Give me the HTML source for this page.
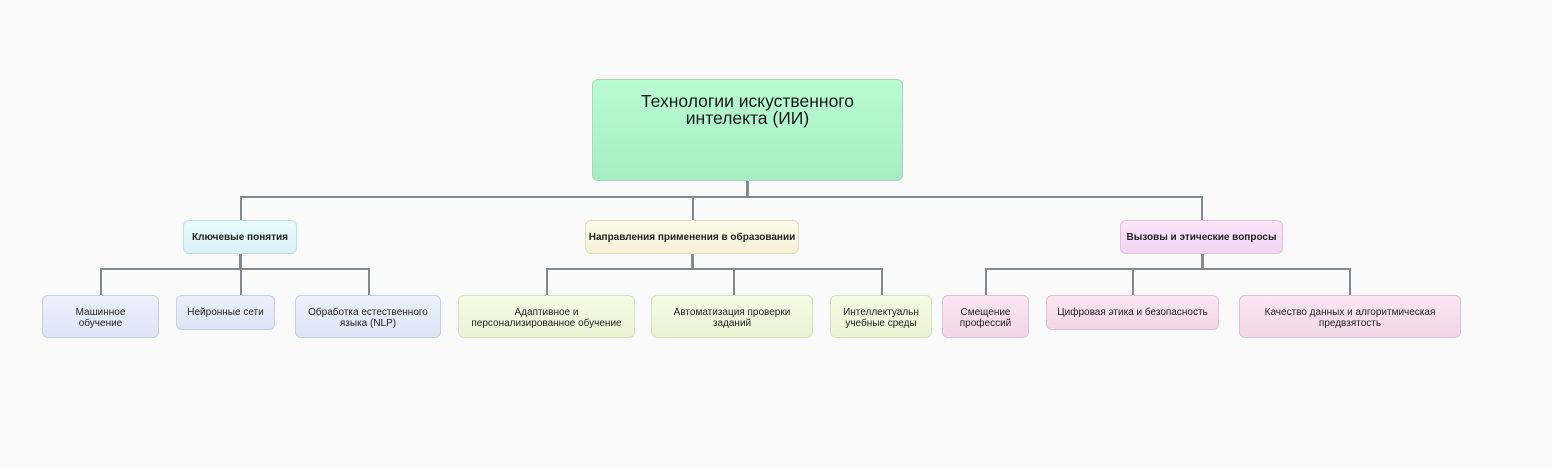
<!DOCTYPE html>
<html><head><meta charset="utf-8"><style>
body{margin:0;width:1552px;height:468px;background:#fafafa;position:relative;overflow:hidden;font-family:"Liberation Sans","DejaVu Sans",sans-serif;}
.b{position:absolute;box-sizing:border-box;border-radius:6px;text-align:center;color:#222;}
.l{position:absolute;background:#84888f;}
.root{left:592px;top:79px;width:311px;height:102px;background:linear-gradient(#b9fcd3,#a8ecc3);border:1px solid #9fdcb6;font-size:17.5px;line-height:17px;padding-top:13px;color:#1a1a1a;}
.k{top:220px;height:34px;font-size:10px;font-weight:bold;line-height:34px;}
.c{top:295px;height:43px;font-size:10px;line-height:11px;padding-top:11px;}
.bl{background:linear-gradient(#ebf0fb,#dde5f5);border:1px solid #c5d0e6;}
.gr{background:linear-gradient(#f6fae6,#ebf3d4);border:1px solid #d6e3bd;}
.pk{background:linear-gradient(#fbe6f3,#f3d6e8);border:1px solid #e2c0d6;}
</style></head><body>
<div class="l" style="left:746px;top:181px;width:3px;height:17px"></div>
<div class="l" style="left:240px;top:196px;width:963px;height:2px"></div>
<div class="l" style="left:240px;top:196px;width:2px;height:24px"></div>
<div class="l" style="left:692px;top:196px;width:2px;height:24px"></div>
<div class="l" style="left:1201px;top:196px;width:2px;height:24px"></div>

<div class="l" style="left:239px;top:254px;width:3px;height:16px"></div>
<div class="l" style="left:100px;top:268px;width:270px;height:2px"></div>
<div class="l" style="left:100px;top:268px;width:2px;height:27px"></div>
<div class="l" style="left:240px;top:268px;width:2px;height:27px"></div>
<div class="l" style="left:368px;top:268px;width:2px;height:27px"></div>

<div class="l" style="left:691px;top:254px;width:3px;height:16px"></div>
<div class="l" style="left:546px;top:268px;width:337px;height:2px"></div>
<div class="l" style="left:546px;top:268px;width:2px;height:27px"></div>
<div class="l" style="left:733px;top:268px;width:2px;height:27px"></div>
<div class="l" style="left:881px;top:268px;width:2px;height:27px"></div>

<div class="l" style="left:1201px;top:254px;width:3px;height:16px"></div>
<div class="l" style="left:985px;top:268px;width:366px;height:2px"></div>
<div class="l" style="left:985px;top:268px;width:2px;height:27px"></div>
<div class="l" style="left:1132px;top:268px;width:2px;height:27px"></div>
<div class="l" style="left:1349px;top:268px;width:2px;height:27px"></div>

<div class="b root">Технологии искуственного<br>интелекта (ИИ)</div>

<div class="b k" style="left:183px;width:114px;background:linear-gradient(#eafafd,#d9f1f6);border:1px solid #bfdfe6">Ключевые понятия</div>
<div class="b k" style="left:585px;width:214px;background:linear-gradient(#fdfbe9,#f5f1d6);border:1px solid #e3ddb9">Направления применения в образовании</div>
<div class="b k" style="left:1120px;width:163px;background:linear-gradient(#fbe6fb,#f2d6f2);border:1px solid #e0bfe0">Вызовы и этические вопросы</div>

<div class="b c bl" style="left:42px;width:117px">Машинное<br>обучение</div>
<div class="b c bl" style="left:176px;width:99px;height:35px">Нейронные сети</div>
<div class="b c bl" style="left:295px;width:146px">Обработка естественного<br>языка (NLP)</div>
<div class="b c gr" style="left:458px;width:177px">Адаптивное и<br>персонализированное обучение</div>
<div class="b c gr" style="left:651px;width:162px">Автоматизация проверки<br>заданий</div>
<div class="b c gr" style="left:830px;width:102px">Интеллектуальн<br>учебные среды</div>
<div class="b c pk" style="left:942px;width:87px">Смещение<br>профессий</div>
<div class="b c pk" style="left:1046px;width:173px;height:35px">Цифровая этика и безопасность</div>
<div class="b c pk" style="left:1239px;width:222px">Качество данных и алгоритмическая<br>предвзятость</div>
</body></html>
